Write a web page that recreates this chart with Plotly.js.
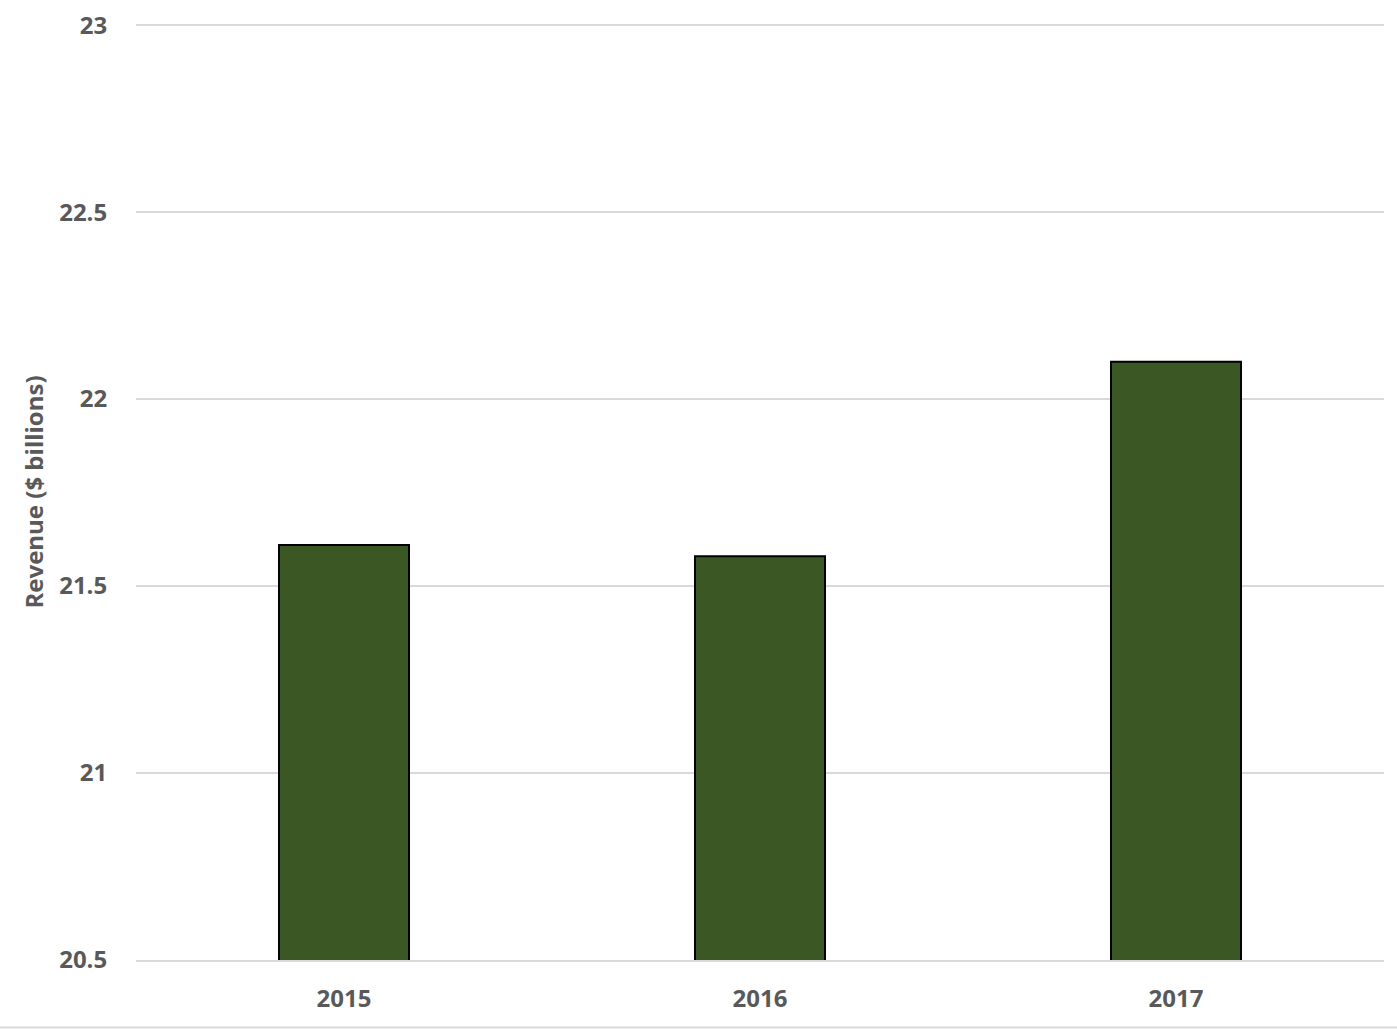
<!DOCTYPE html>
<html>
<head>
<meta charset="utf-8">
<script src="https://cdn.plot.ly/plotly-3.0.1.min.js"></script>
<style>html,body{margin:0;padding:0;background:#fff;}#chart{width:1397px;height:1036px;}</style>
</head>
<body>
<div id="chart"></div>
<script>
const years = ['2015', '2016', '2017'];
const revenue = [21.61, 21.58, 22.10];
const yTicks = [20.5, 21, 21.5, 22, 22.5, 23];
const yTickLabels = ['20.5', '21', '21.5', '22', '22.5', '23'];

const font = {family: 'Open Sans, Liberation Sans, sans-serif', color: '#595959', size: 24, weight: 'bold'};

Plotly.newPlot('chart', [{
  type: 'bar',
  x: years,
  y: revenue,
  marker: {color: '#3A5724', line: {color: '#000000', width: 2}},
  hoverinfo: 'skip'
}], {
  width: 1397, height: 1036,
  margin: {l: 136, r: 13, t: 24, b: 76},
  paper_bgcolor: '#ffffff', plot_bgcolor: '#ffffff',
  bargap: 0.6875,
  showlegend: false,
  font: font,
  xaxis: {
    type: 'category',
    tickfont: font,
    showgrid: false,
    showline: true, linecolor: '#D9D9D9', linewidth: 2,
    ticks: 'outside', ticklen: 16, tickcolor: 'rgba(0,0,0,0)',
    zeroline: false
  },
  yaxis: {
    range: [20.5, 23.003],
    tickvals: yTicks, ticktext: yTickLabels,
    tickfont: font,
    showgrid: true, gridcolor: '#D9D9D9', gridwidth: 2,
    zeroline: false, showline: false,
    ticks: 'outside', ticklen: 23, tickcolor: 'rgba(0,0,0,0)',
    title: {text: 'Revenue ($ billions)', font: {family: font.family, color: '#595959', size: 24, weight: 'bold'}, standoff: 8},
    automargin: false
  },
  shapes: [{
    type: 'line', xref: 'paper', yref: 'paper',
    x0: -0.11, x1: 1.011, y0: -0.0722, y1: -0.0722,
    line: {color: '#D9D9D9', width: 2}
  }]
}, {staticPlot: true});
</script>
</body>
</html>
